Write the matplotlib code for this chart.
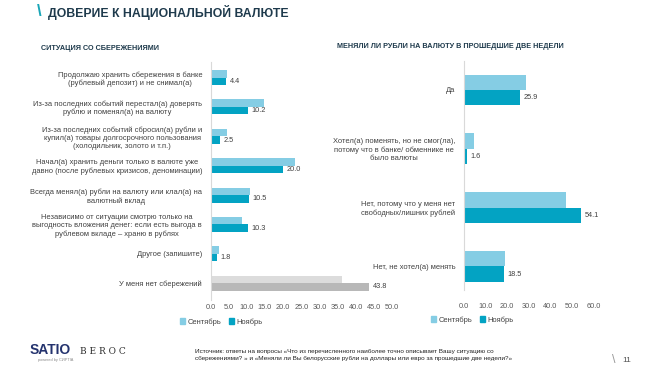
import matplotlib.pyplot as plt
from matplotlib.patches import Patch

plt.rcParams['font.family'] = ['Liberation Sans', 'DejaVu Sans']

W, H = 662, 369

# данные: ситуация со сбережениями
sav_labels = [
    "Продолжаю хранить сбережения в банке\n(рублевый депозит) и не снимал(а)",
    "Из-за последних событий перестал(а) доверять\nрублю и поменял(а) на валюту",
    "Из-за последних событий сбросил(а) рубли и\nкупил(а) товары долгосрочного пользования\n(холодильник, золото и т.п.)",
    "Начал(а) хранить деньги только в валюте уже\nдавно (после рублевых кризисов, деноминации)",
    "Всегда менял(а) рубли на валюту или клал(а) на\nвалютный вклад",
    "Независимо от ситуации смотрю только на\nвыгодность вложения денег: если есть выгода в\nрублевом вкладе – храню в рублях",
    "Другое (запишите)",
    "У меня нет сбережений",
]
sav_sep = [4.6, 14.7, 4.6, 23.2, 10.8, 8.6, 2.3, 36.2]
sav_nov = [4.4, 10.2, 2.5, 20.0, 10.5, 10.3, 1.8, 43.8]
sav_ticks = [0, 5, 10, 15, 20, 25, 30, 35, 40, 45, 50]

# данные: меняли ли рубли на валюту
ex_labels = [
    "Да",
    "Хотел(а) поменять, но не смог(ла),\nпотому что в банке/ обменнике не\nбыло валюты",
    "Нет, потому что у меня нет\nсвободных/лишних рублей",
    "Нет, не хотел(а) менять",
]
ex_sep = [28.7, 4.7, 47.1, 19.1]
ex_nov = [25.9, 1.6, 54.1, 18.5]
ex_ticks = [0, 10, 20, 30, 40, 50, 60]

C_SEP = '#85cde4'
C_NOV = '#03a3c3'
G_SEP = '#dcdcdc'
G_NOV = '#b8b8b8'
TXT = '#404040'
NAVY = '#1e3a4c'


def px_axes(fig, x0, y0, x1, y1):
    return fig.add_axes([x0 / W, 1 - y1 / H, (x1 - x0) / W, (y1 - y0) / H])


def style(ax, ticks, xmax, pad):
    ax.set_xlim(0, xmax)
    ax.set_xticks(ticks)
    ax.set_xticklabels([f"{t:.1f}" for t in ticks], fontsize=5.3, color='#595959')
    ax.tick_params(axis='y', length=0, pad=6)
    ax.tick_params(axis='x', length=0, pad=pad)
    for s in ['top', 'right', 'bottom']:
        ax.spines[s].set_visible(False)
    ax.spines['left'].set_color('#d9d9d9')
    ax.spines['left'].set_linewidth(0.8)


fig = plt.figure(figsize=(W / 100, H / 100), dpi=100)

# левая диаграмма
ax1 = px_axes(fig, 210.5, 62, 392, 300)
h1 = 0.255
ys = range(len(sav_labels))
for i in ys:
    cs, cn = (G_SEP, G_NOV) if i == len(sav_labels) - 1 else (C_SEP, C_NOV)
    ax1.barh(i - h1 / 2, sav_sep[i], height=h1, color=cs)
    ax1.barh(i + h1 / 2, sav_nov[i], height=h1, color=cn)
    ax1.text(sav_nov[i] + 1.0, i + h1 / 2, f"{sav_nov[i]:.1f}", va='center', ha='left',
             fontsize=5.3, color=TXT)
ax1.set_ylim(7.57, -0.53)
ax1.set_yticks(list(ys))
ax1.set_yticklabels(sav_labels, fontsize=5.4, color=TXT, multialignment='center')
style(ax1, sav_ticks, 50, 3)

# правая диаграмма
ax2 = px_axes(fig, 463.5, 61, 593.5, 290)
h2 = 0.26
ys2 = range(len(ex_labels))
for i in ys2:
    ax2.barh(i - h2 / 2, ex_sep[i], height=h2, color=C_SEP)
    ax2.barh(i + h2 / 2, ex_nov[i], height=h2, color=C_NOV)
    ax2.text(ex_nov[i] + 1.8, i + h2 / 2, f"{ex_nov[i]:.1f}", va='center', ha='left',
             fontsize=5.3, color=TXT)
ax2.set_ylim(3.4, -0.49)
ax2.set_yticks(list(ys2))
ax2.set_yticklabels(ex_labels, fontsize=5.4, color=TXT, multialignment='center')
style(ax2, ex_ticks, 60, 9)

# легенды
handles = [Patch(color=C_SEP, label='Сентябрь'), Patch(color=C_NOV, label='Ноябрь')]
for cx, cy in [(221, 322), (472, 320)]:
    fig.legend(handles=handles, loc='center', bbox_to_anchor=(cx / W, 1 - cy / H), ncol=2,
               frameon=False, fontsize=5.4, handlelength=0.7, handleheight=0.7,
               handletextpad=0.3, columnspacing=1.0, labelcolor=TXT)

# заголовки
fig.text(37 / W, 1 - 12 / H, "\\", fontsize=12, color='#1aa6b7', fontweight='bold', va='center')
fig.text(48 / W, 1 - 12 / H, "ДОВЕРИЕ К НАЦИОНАЛЬНОЙ ВАЛЮТЕ", fontsize=8.8,
         fontweight='bold', color=NAVY, va='center')
fig.text(41 / W, 1 - 48 / H, "СИТУАЦИЯ СО СБЕРЕЖЕНИЯМИ", fontsize=5.2,
         fontweight='bold', color=NAVY, va='center')
fig.text(337 / W, 1 - 46 / H, "МЕНЯЛИ ЛИ РУБЛИ НА ВАЛЮТУ В ПРОШЕДШИЕ ДВЕ НЕДЕЛИ", fontsize=5.25,
         fontweight='bold', color=NAVY, va='center')

# подвал
fig.text(30 / W, 1 - 350 / H, "SATIO", fontsize=10, fontweight='bold', color='#24336e', va='center')
fig.text(80 / W, 1 - 351 / H, "B E R O C", fontsize=6.5, family='DejaVu Serif', color='#2b2b2b',
         va='center')
fig.text(38 / W, 1 - 360 / H, "powered by CИPTIA", fontsize=2.8, color='#8a8a8a', va='center')
fig.text(195 / W, 1 - 355 / H,
         "Источник: ответы на вопросы «Что из перечисленного наиболее точно описывает Вашу ситуацию со\n"
         "сбережениями? » и «Меняли ли Вы белорусские рубли на доллары или евро за прошедшие две недели?»",
         fontsize=4.6, color='#222222', va='center', linespacing=1.3)
fig.text(612 / W, 1 - 360 / H, "\\", fontsize=9, color='#9a9a9a', va='center')
fig.text(622 / W, 1 - 360 / H, "11", fontsize=6, color='#555555', va='center')

fig.savefig('out.png', dpi=100)
